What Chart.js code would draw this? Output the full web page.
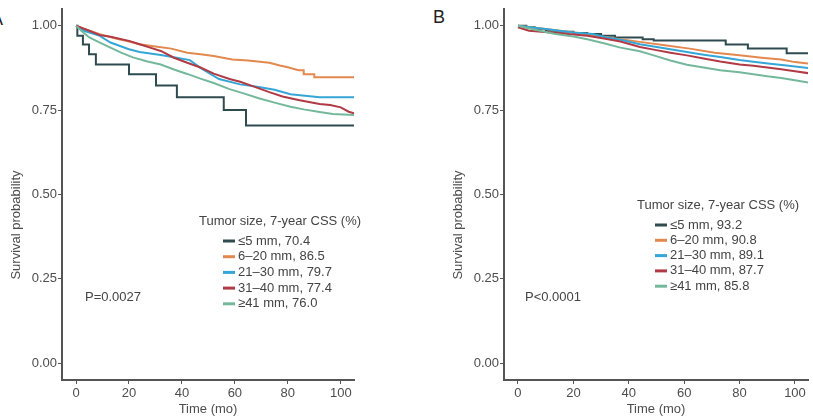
<!DOCTYPE html>
<html>
<head>
<meta charset="utf-8">
<script src="https://cdn.jsdelivr.net/npm/chart.js@4/dist/chart.umd.min.js"></script>
<style>
  body { margin: 0; background: #fff; width: 813px; height: 418px; overflow: hidden; position: relative; font-family: "Liberation Sans", Arial, sans-serif; }
  canvas { position: absolute; top: 0; }
  #cA { left: 0; }
  #cB { left: 442px; }
  .tag { position: absolute; font-size: 18px; color: #222; }
</style>
</head>
<body>
<div class="tag" style="left:-9px; top:9px;">A</div>
<div class="tag" style="left:433px; top:7px;">B</div>
<canvas id="cA" width="420" height="418"></canvas>
<canvas id="cB" width="371" height="418"></canvas>
<script>
// groups and legend values
var groups = ["≤5 mm", "6–20 mm", "21–30 mm", "31–40 mm", "≥41 mm"];
var cssA = ["70.4", "86.5", "79.7", "77.4", "76.0"];
var cssB = ["93.2", "90.8", "89.1", "87.7", "85.8"];
var colors = ["#2f4b4f", "#e3894f", "#35a6d6", "#b03a45", "#74b89b"];
var xTicks = [0, 20, 40, 60, 80, 100];
var yTicks = [0, 0.25, 0.5, 0.75, 1];

// panel A curves (months, survival)
var tA1 = [0, 0.5, 2.6, 4.9, 7.5, 20, 30.2, 38.1, 55.8, 64.2, 105];
var sA1 = [1, 0.97, 0.944, 0.915, 0.885, 0.856, 0.823, 0.788, 0.75, 0.704, 0.704];
var tA2 = [0, 3, 9, 15, 20, 24, 30, 36, 42, 47, 52, 59, 65, 73, 77, 80, 84, 86, 86, 90, 90, 105];
var sA2 = [1, 0.99, 0.975, 0.962, 0.953, 0.945, 0.938, 0.932, 0.92, 0.915, 0.91, 0.9, 0.897, 0.89, 0.882, 0.877, 0.868, 0.868, 0.856, 0.856, 0.847, 0.847];
var tA3 = [0, 3, 9, 13, 20, 24, 32, 38, 43, 47, 54, 62, 69, 75, 81, 92, 105];
var sA3 = [1, 0.985, 0.97, 0.95, 0.93, 0.922, 0.913, 0.905, 0.898, 0.875, 0.842, 0.826, 0.818, 0.81, 0.797, 0.788, 0.788];
var tA4 = [0, 5, 9, 13, 20, 24, 28, 32, 37, 42, 47, 52, 58, 62, 67, 73, 78, 84, 92, 96, 100, 103, 105];
var sA4 = [1, 0.985, 0.972, 0.967, 0.955, 0.945, 0.935, 0.925, 0.905, 0.89, 0.876, 0.858, 0.842, 0.834, 0.82, 0.803, 0.79, 0.78, 0.768, 0.765, 0.758, 0.745, 0.74];
var tA5 = [0, 2, 5, 9, 13, 17, 21.5, 27, 32, 37, 42, 47, 52, 58, 63, 69, 75, 81, 86, 92, 97, 105];
var sA5 = [1, 0.985, 0.965, 0.95, 0.935, 0.92, 0.906, 0.894, 0.885, 0.87, 0.857, 0.843, 0.83, 0.812, 0.8, 0.785, 0.772, 0.76, 0.752, 0.744, 0.738, 0.735];

// panel B curves
var tB1 = [0, 3, 6, 10, 14, 20, 25, 30, 35, 45, 49, 75, 83, 97, 105];
var sB1 = [1, 0.995, 0.99, 0.985, 0.982, 0.978, 0.975, 0.97, 0.965, 0.96, 0.956, 0.944, 0.932, 0.918, 0.918];
var tB2 = [0, 10, 20, 25, 35, 44, 53, 62, 71, 80, 88, 95, 100, 105];
var sB2 = [1, 0.99, 0.98, 0.974, 0.962, 0.952, 0.942, 0.932, 0.92, 0.912, 0.905, 0.9, 0.892, 0.888];
var tB3 = [0, 10, 20, 27, 32, 37, 44, 49, 55, 61, 67, 73, 80, 85, 91, 97, 105];
var sB3 = [1, 0.99, 0.98, 0.975, 0.965, 0.958, 0.945, 0.938, 0.93, 0.922, 0.914, 0.907, 0.898, 0.893, 0.887, 0.882, 0.874];
var tB4 = [0, 2, 4, 13, 25, 31, 37, 44, 49, 55, 61, 67, 73, 80, 85, 90, 95, 100, 105];
var sB4 = [0.995, 0.99, 0.985, 0.979, 0.97, 0.962, 0.953, 0.937, 0.929, 0.92, 0.912, 0.903, 0.894, 0.885, 0.881, 0.876, 0.871, 0.865, 0.859];
var tB5 = [0, 5, 13, 20, 25, 31, 37, 44, 49, 55, 61, 67, 73, 80, 85, 90, 95, 100, 105];
var sB5 = [1, 0.99, 0.976, 0.968, 0.96, 0.948, 0.935, 0.924, 0.912, 0.897, 0.884, 0.876, 0.868, 0.862, 0.856, 0.85, 0.845, 0.838, 0.831];

Chart.defaults.font.family = '"Liberation Sans", Arial, sans-serif';
Chart.defaults.font.size = 13;
Chart.defaults.color = "#4d4d4d";

function pts(t, s) {
    return t.map(function (v, i) { return { x: v, y: s[i] }; });
}

// legend, p value and y title drawn on top of the plot
var kmExtras = {
    id: "kmExtras",
    afterDraw: function (chart, args, o) {
        var ctx = chart.ctx;
        ctx.save();
        ctx.font = '13px "Liberation Sans", Arial, sans-serif';
        ctx.textBaseline = "middle";
        ctx.textAlign = "left";
        ctx.fillStyle = "#444";
        ctx.fillText(o.title, o.lx, o.ly);
        o.labels.forEach(function (lab, i) {
            var y = o.ly + 20 + i * o.rowH;
            ctx.strokeStyle = colors[i];
            ctx.lineWidth = 3;
            ctx.beginPath();
            ctx.moveTo(o.kx, y);
            ctx.lineTo(o.kx + 12, y);
            ctx.stroke();
            ctx.fillStyle = "#444";
            ctx.fillText(lab, o.kx + 15, y);
        });
        ctx.fillText(o.pText, o.px, o.py);
        // y axis title
        ctx.translate(16, 225);
        ctx.rotate(-Math.PI / 2);
        ctx.textAlign = "center";
        ctx.fillStyle = "#4d4d4d";
        ctx.fillText("Survival probability", 0, 0);
        ctx.restore();
    }
};

function makeChart(id, curves, css, xmin, xmax, padRight, extras) {
    var datasets = curves.map(function (c, i) {
        return {
            label: groups[i],
            data: pts(c[0], c[1]),
            borderColor: colors[i],
            borderWidth: 2,
            pointRadius: 0,
            showLine: true,
            fill: false,
            stepped: i === 0 ? "before" : false,
            order: groups.length - i
        };
    });
    extras.labels = groups.map(function (g, i) { return g + ", " + css[i]; });
    return new Chart(document.getElementById(id), {
        type: "scatter",
        data: { datasets: datasets },
        plugins: [kmExtras],
        options: {
            responsive: false,
            animation: false,
            layout: { padding: { top: 6, right: padRight, bottom: 0, left: 0 } },
            plugins: { legend: { display: false }, tooltip: { enabled: false }, kmExtras: extras },
            scales: {
                x: {
                    type: "linear",
                    min: xmin,
                    max: xmax,
                    afterBuildTicks: function (s) { s.ticks = xTicks.map(function (v) { return { value: v }; }); },
                    afterFit: function (s) { s.height = 38; },
                    ticks: { padding: 2, color: "#4d4d4d", maxRotation: 0 },
                    grid: { drawOnChartArea: false, tickLength: 4, color: "#555" },
                    border: { color: "#555", width: 2 },
                    title: { display: true, text: "Time (mo)", color: "#4d4d4d", padding: { top: 0, bottom: 1 } }
                },
                y: {
                    min: -0.05,
                    max: 1.05,
                    afterBuildTicks: function (s) { s.ticks = yTicks.map(function (v) { return { value: v }; }); },
                    afterFit: function (s) { s.width = 62; },
                    ticks: { padding: 1, color: "#4d4d4d", callback: function (v) { return v.toFixed(2); } },
                    grid: { drawOnChartArea: false, tickLength: 4, color: "#555" },
                    border: { color: "#555", width: 2 }
                }
            }
        }
    });
}

makeChart("cA",
    [[tA1, sA1], [tA2, sA2], [tA3, sA3], [tA4, sA4], [tA5, sA5]],
    cssA, -5.3, 105, 66,
    { title: "Tumor size, 7-year CSS (%)", lx: 199, ly: 221, kx: 223, rowH: 15.7, pText: "P=0.0027", px: 85, py: 297 });

makeChart("cB",
    [[tB1, sB1], [tB2, sB2], [tB3, sB3], [tB4, sB4], [tB5, sB5]],
    cssB, -5.05, 104.7, 5,
    { title: "Tumor size, 7-year CSS (%)", lx: 637 - 442, ly: 205, kx: 655 - 442, rowH: 15.3, pText: "P<0.0001", px: 525 - 442, py: 297 });
</script>
</body>
</html>
